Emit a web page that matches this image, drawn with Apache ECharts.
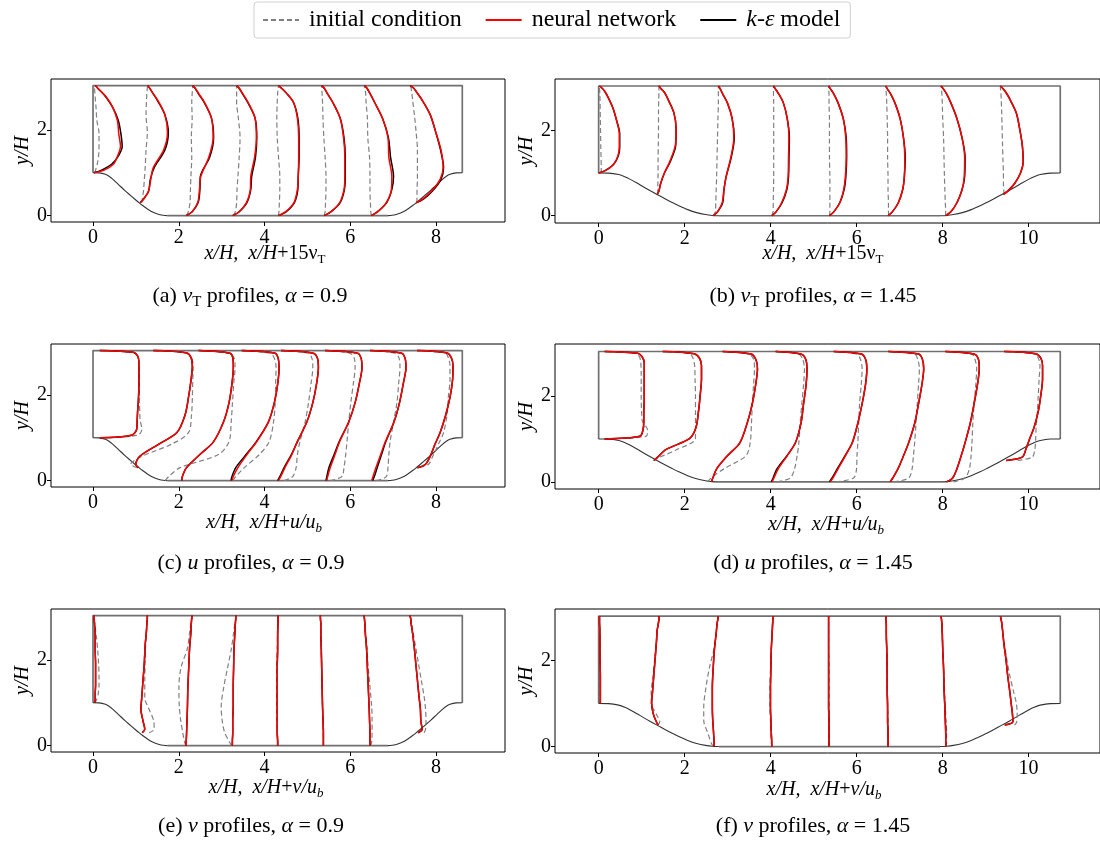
<!DOCTYPE html>
<html>
<head>
<meta charset="utf-8">
<title>periodic hill profiles</title>
<script src="https://cdn.jsdelivr.net/npm/echarts@6.0.0/dist/echarts.min.js"></script>
<style>
    html, body { margin: 0; padding: 0; background: #fff; }
    #chart { width: 1100px; height: 843px; }
</style>
</head>
<body>
<div id="chart"></div>
<script>
// ---- geometry ----
var yTop = 3.036;
var alphaA = 0.9, alphaB = 1.45;
var lengthA = 8.614, lengthB = 10.736;
// hill shape for alpha = 1 (x/H, y/H)
var hillX = [0, 0.161, 0.321, 0.429, 0.5, 0.607, 0.714, 0.821, 0.929, 1.071, 1.179, 1.286, 1.429, 1.571, 1.714, 1.821, 1.929];
var hillY = [1.0, 0.998, 0.964, 0.908, 0.857, 0.770, 0.679, 0.590, 0.504, 0.393, 0.311, 0.234, 0.143, 0.073, 0.027, 0.007, 0.0];

// sampling stations and wall height under each one
var stationsA = [0, 1.077, 2.153, 3.230, 4.307, 5.384, 6.460, 7.537];
var stationsB = [0, 1.342, 2.684, 4.026, 5.368, 6.710, 8.052, 9.394];
var wallA = [1, 0.30, 0, 0, 0, 0, 0, 0.30];
var wallB = [1, 0.50, 0, 0, 0, 0, 0, 0.50];
// fraction of the way from bottom wall to top wall
var sLevels = [0, 0.03, 0.1, 0.2, 0.3, 0.45, 0.6, 0.75, 0.87, 0.94, 0.98, 1];

var xTicksA = [0, 2, 4, 6, 8];
var xTicksB = [0, 2, 4, 6, 8, 10];
var yTicks = [0, 2];

// ---- profile offsets (x/H added to the station), one row per station ----
// (a) 15 nu_T, alpha = 0.9
var nutA_ic = [
    [0.04, 0.06, 0.10, 0.13, 0.14, 0.14, 0.09, 0.07, 0.05, 0.04, 0.03, 0.03],
    [0.06, 0.07, 0.10, 0.12, 0.14, 0.16, 0.19, 0.16, 0.17, 0.18, 0.19, 0.20],
    [0.03, 0.07, 0.11, 0.12, 0.13, 0.15, 0.14, 0.16, 0.15, 0.16, 0.17, 0.17],
    [0.04, 0.09, 0.12, 0.13, 0.15, 0.18, 0.20, 0.16, 0.12, 0.12, 0.12, 0.12],
    [0.02, 0.03, 0.04, 0.05, 0.05, 0.02, -0.01, -0.02, -0.01, 0.00, 0.01, 0.02],
    [0.01, 0.03, 0.04, 0.05, 0.05, 0.03, 0.00, -0.02, -0.03, -0.04, -0.05, -0.05],
    [0.03, 0.02, 0.01, 0.00, 0.00, -0.01, -0.05, -0.06, -0.09, -0.10, -0.12, -0.13],
    [0.02, 0.02, 0.02, 0.03, 0.03, 0.03, 0.00, -0.04, -0.08, -0.10, -0.12, -0.14]
];
var nutA_ke = [
    [0.02, 0.20, 0.44, 0.60, 0.68, 0.65, 0.59, 0.46, 0.30, 0.17, 0.09, 0.05],
    [0.02, 0.10, 0.22, 0.26, 0.35, 0.60, 0.68, 0.60, 0.43, 0.31, 0.24, 0.20],
    [0.02, 0.16, 0.30, 0.34, 0.35, 0.57, 0.66, 0.61, 0.44, 0.30, 0.23, 0.17],
    [0.03, 0.18, 0.36, 0.45, 0.47, 0.56, 0.59, 0.55, 0.38, 0.25, 0.18, 0.12],
    [0.02, 0.20, 0.39, 0.47, 0.48, 0.50, 0.50, 0.47, 0.37, 0.21, 0.09, 0.02],
    [0.01, 0.17, 0.38, 0.48, 0.50, 0.50, 0.47, 0.38, 0.21, 0.08, 0.01, -0.05],
    [0.03, 0.18, 0.39, 0.51, 0.55, 0.48, 0.43, 0.29, 0.11, 0.00, -0.07, -0.13],
    [0.00, 0.17, 0.38, 0.58, 0.64, 0.57, 0.46, 0.33, 0.15, 0.02, -0.06, -0.14]
];
var nutA_nn = [
    [0.02, 0.26, 0.48, 0.58, 0.64, 0.60, 0.57, 0.46, 0.31, 0.17, 0.09, 0.05],
    [0.02, 0.10, 0.22, 0.27, 0.33, 0.57, 0.66, 0.60, 0.44, 0.31, 0.24, 0.20],
    [0.02, 0.16, 0.29, 0.33, 0.36, 0.55, 0.65, 0.61, 0.45, 0.31, 0.23, 0.17],
    [0.03, 0.18, 0.35, 0.44, 0.45, 0.54, 0.58, 0.55, 0.39, 0.26, 0.18, 0.12],
    [0.02, 0.19, 0.38, 0.46, 0.48, 0.49, 0.49, 0.46, 0.37, 0.21, 0.09, 0.02],
    [0.01, 0.17, 0.37, 0.47, 0.49, 0.49, 0.46, 0.38, 0.21, 0.08, 0.01, -0.05],
    [0.03, 0.18, 0.38, 0.50, 0.51, 0.44, 0.42, 0.29, 0.11, 0.00, -0.07, -0.13],
    [0.00, 0.15, 0.36, 0.56, 0.63, 0.58, 0.46, 0.33, 0.15, 0.02, -0.06, -0.14]
];
// (b) 15 nu_T, alpha = 1.45
var nutB_ic = [
    [0.06, 0.06, 0.06, 0.055, 0.05, 0.045, 0.04, 0.035, 0.03, 0.025, 0.02, 0.02],
    [0.03, 0.03, 0.035, 0.04, 0.04, 0.045, 0.05, 0.05, 0.055, 0.06, 0.06, 0.06],
    [-0.02, 0.03, 0.04, 0.05, 0.06, 0.07, 0.08, 0.09, 0.10, 0.10, 0.10, 0.10],
    [0.00, 0.03, 0.035, 0.04, 0.045, 0.045, 0.045, 0.045, 0.045, 0.04, 0.04, 0.04],
    [0.00, 0.01, 0.01, 0.01, 0.01, 0.00, 0.00, 0.00, -0.01, -0.01, -0.02, -0.02],
    [0.04, 0.03, 0.03, 0.02, 0.02, 0.01, 0.01, 0.00, -0.01, -0.02, -0.03, -0.03],
    [0.02, 0.02, 0.01, 0.00, -0.01, -0.02, -0.03, -0.05, -0.06, -0.07, -0.08, -0.09],
    [0.03, 0.03, 0.02, 0.02, 0.01, 0.00, -0.01, -0.02, -0.03, -0.04, -0.05, -0.05]
];
var nutB_ke = [
    [0.00, 0.16, 0.35, 0.46, 0.49, 0.49, 0.42, 0.33, 0.22, 0.14, 0.07, 0.02],
    [0.02, 0.06, 0.10, 0.19, 0.32, 0.45, 0.46, 0.41, 0.28, 0.19, 0.10, 0.06],
    [-0.02, 0.08, 0.20, 0.23, 0.28, 0.40, 0.47, 0.42, 0.31, 0.20, 0.14, 0.10],
    [0.00, 0.10, 0.24, 0.35, 0.39, 0.40, 0.41, 0.36, 0.27, 0.16, 0.08, 0.04],
    [0.00, 0.10, 0.24, 0.34, 0.38, 0.40, 0.39, 0.32, 0.20, 0.10, 0.02, -0.02],
    [0.02, 0.12, 0.26, 0.36, 0.40, 0.42, 0.38, 0.30, 0.18, 0.08, 0.00, -0.03],
    [0.02, 0.14, 0.28, 0.40, 0.46, 0.47, 0.40, 0.28, 0.14, 0.04, -0.04, -0.09],
    [0.02, 0.12, 0.28, 0.42, 0.48, 0.46, 0.40, 0.32, 0.18, 0.08, 0.00, -0.05]
];
var nutB_nn = [
    [0.00, 0.17, 0.35, 0.45, 0.48, 0.48, 0.42, 0.33, 0.22, 0.14, 0.07, 0.02],
    [0.02, 0.06, 0.10, 0.19, 0.31, 0.44, 0.46, 0.41, 0.28, 0.19, 0.10, 0.06],
    [-0.02, 0.08, 0.19, 0.23, 0.28, 0.39, 0.46, 0.42, 0.31, 0.20, 0.14, 0.10],
    [0.00, 0.10, 0.23, 0.34, 0.38, 0.39, 0.40, 0.36, 0.27, 0.16, 0.08, 0.04],
    [0.00, 0.10, 0.24, 0.33, 0.37, 0.39, 0.38, 0.32, 0.20, 0.10, 0.02, -0.02],
    [0.02, 0.12, 0.26, 0.36, 0.40, 0.41, 0.38, 0.30, 0.18, 0.08, 0.00, -0.03],
    [0.02, 0.14, 0.28, 0.40, 0.45, 0.46, 0.40, 0.28, 0.14, 0.04, -0.04, -0.09],
    [0.02, 0.12, 0.28, 0.42, 0.48, 0.46, 0.40, 0.32, 0.18, 0.08, 0.00, -0.05]
];
// (c) u/u_b, alpha = 0.9
var uA_ic = [
    [0.16, 1.05, 1.14, 1.10, 1.09, 1.08, 1.08, 1.08, 1.07, 1.03, 0.93, 0.16],
    [-0.05, -0.20, 0.08, 0.75, 1.15, 1.22, 1.24, 1.25, 1.26, 1.22, 1.10, 0.33],
    [-0.47, -0.39, -0.12, 0.77, 1.02, 1.07, 1.10, 1.13, 1.16, 1.14, 1.04, 0.31],
    [0.03, 0.10, 0.30, 0.65, 0.88, 0.98, 1.02, 1.03, 1.04, 1.00, 0.90, 0.24],
    [0.15, 0.35, 0.43, 0.46, 0.52, 0.64, 0.72, 0.78, 0.82, 0.80, 0.72, 0.06],
    [0.15, 0.42, 0.47, 0.51, 0.54, 0.58, 0.63, 0.69, 0.73, 0.71, 0.61, 0.03],
    [0.15, 0.38, 0.42, 0.44, 0.47, 0.55, 0.63, 0.67, 0.70, 0.68, 0.59, 0.00],
    [0.08, 0.29, 0.39, 0.52, 0.64, 0.72, 0.75, 0.79, 0.79, 0.75, 0.68, 0.02]
];
var uA_ke = [
    [0.16, 0.90, 1.02, 1.03, 1.04, 1.06, 1.07, 1.07, 1.07, 1.04, 0.94, 0.16],
    [-0.02, -0.08, 0.02, 0.45, 0.88, 1.07, 1.15, 1.21, 1.24, 1.21, 1.11, 0.33],
    [-0.08, -0.07, 0.03, 0.34, 0.66, 0.89, 1.02, 1.09, 1.12, 1.11, 1.04, 0.31],
    [-0.01, 0.01, 0.10, 0.34, 0.58, 0.86, 1.00, 1.08, 1.11, 1.09, 1.02, 0.24],
    [0.00, 0.05, 0.15, 0.32, 0.46, 0.68, 0.82, 0.91, 0.95, 0.93, 0.83, 0.08],
    [0.05, 0.07, 0.12, 0.24, 0.36, 0.58, 0.73, 0.83, 0.89, 0.87, 0.79, 0.03],
    [0.06, 0.10, 0.17, 0.27, 0.37, 0.56, 0.69, 0.78, 0.84, 0.82, 0.74, 0.00],
    [0.03, 0.22, 0.33, 0.44, 0.56, 0.69, 0.79, 0.85, 0.86, 0.82, 0.72, 0.02]
];
var uA_nn = [
    [0.16, 0.90, 1.02, 1.03, 1.04, 1.06, 1.07, 1.07, 1.07, 1.04, 0.94, 0.16],
    [-0.02, -0.08, 0.02, 0.45, 0.88, 1.07, 1.15, 1.21, 1.24, 1.21, 1.11, 0.33],
    [-0.08, -0.07, 0.03, 0.34, 0.66, 0.89, 1.02, 1.09, 1.12, 1.11, 1.04, 0.31],
    [0.01, 0.04, 0.15, 0.36, 0.59, 0.86, 1.00, 1.08, 1.11, 1.09, 1.02, 0.24],
    [0.02, 0.07, 0.17, 0.33, 0.46, 0.68, 0.82, 0.91, 0.95, 0.93, 0.83, 0.08],
    [0.07, 0.09, 0.15, 0.26, 0.37, 0.58, 0.73, 0.83, 0.89, 0.87, 0.79, 0.03],
    [0.04, 0.07, 0.14, 0.25, 0.36, 0.56, 0.69, 0.78, 0.84, 0.82, 0.74, 0.00],
    [0.03, 0.22, 0.33, 0.44, 0.56, 0.69, 0.79, 0.85, 0.86, 0.82, 0.72, 0.02]
];
// (d) u/u_b, alpha = 1.45
var uB_ic = [
    [0.14, 1.10, 1.14, 1.02, 1.00, 0.99, 0.99, 0.99, 0.98, 0.95, 0.85, 0.14],
    [-0.08, 0.08, 0.48, 0.91, 0.91, 0.91, 0.91, 0.90, 0.89, 0.85, 0.77, 0.15],
    [-0.15, -0.07, 0.23, 0.74, 0.84, 0.87, 0.89, 0.92, 0.94, 0.92, 0.81, 0.20],
    [0.13, 0.43, 0.53, 0.59, 0.63, 0.66, 0.70, 0.74, 0.76, 0.72, 0.63, 0.09],
    [0.15, 0.56, 0.63, 0.64, 0.66, 0.68, 0.70, 0.74, 0.76, 0.72, 0.64, 0.10],
    [0.15, 0.50, 0.58, 0.61, 0.64, 0.67, 0.70, 0.73, 0.75, 0.71, 0.64, 0.03],
    [0.20, 0.47, 0.57, 0.61, 0.63, 0.65, 0.68, 0.72, 0.74, 0.70, 0.63, 0.01],
    [0.35, 0.69, 0.75, 0.77, 0.78, 0.81, 0.83, 0.85, 0.87, 0.83, 0.73, 0.04]
];
var uB_ke = [
    [0.14, 0.96, 1.03, 1.05, 1.05, 1.06, 1.06, 1.06, 1.06, 1.01, 0.91, 0.14],
    [-0.05, 0.03, 0.22, 0.77, 0.92, 0.98, 1.02, 1.05, 1.05, 1.00, 0.88, 0.15],
    [-0.06, -0.03, 0.06, 0.31, 0.60, 0.77, 0.89, 0.97, 1.01, 0.97, 0.86, 0.20],
    [-0.01, 0.03, 0.12, 0.35, 0.55, 0.68, 0.74, 0.80, 0.82, 0.79, 0.68, 0.09],
    [0.00, 0.06, 0.18, 0.36, 0.53, 0.66, 0.76, 0.84, 0.87, 0.84, 0.74, 0.10],
    [0.07, 0.13, 0.25, 0.38, 0.50, 0.64, 0.73, 0.81, 0.85, 0.82, 0.73, 0.03],
    [0.04, 0.18, 0.28, 0.38, 0.47, 0.59, 0.68, 0.76, 0.80, 0.78, 0.68, 0.01],
    [0.08, 0.46, 0.54, 0.63, 0.73, 0.83, 0.89, 0.93, 0.93, 0.89, 0.77, 0.04]
];
var uB_nn = [
    [0.14, 0.96, 1.03, 1.05, 1.05, 1.06, 1.06, 1.06, 1.06, 1.01, 0.91, 0.14],
    [-0.05, 0.03, 0.22, 0.77, 0.92, 0.98, 1.02, 1.05, 1.05, 1.00, 0.88, 0.15],
    [-0.06, -0.03, 0.06, 0.31, 0.60, 0.77, 0.89, 0.97, 1.01, 0.97, 0.86, 0.20],
    [0.01, 0.05, 0.15, 0.36, 0.55, 0.68, 0.74, 0.80, 0.82, 0.79, 0.68, 0.09],
    [0.02, 0.08, 0.20, 0.37, 0.53, 0.66, 0.76, 0.84, 0.87, 0.84, 0.74, 0.10],
    [0.07, 0.13, 0.25, 0.38, 0.50, 0.64, 0.73, 0.81, 0.85, 0.82, 0.73, 0.03],
    [0.04, 0.18, 0.28, 0.38, 0.47, 0.59, 0.68, 0.76, 0.80, 0.78, 0.68, 0.01],
    [0.08, 0.46, 0.54, 0.63, 0.73, 0.83, 0.89, 0.93, 0.93, 0.89, 0.77, 0.04]
];
// (e) v/u_b, alpha = 0.9
var vA_ic = [
    [0.04, 0.08, 0.12, 0.14, 0.14, 0.13, 0.11, 0.08, 0.05, 0.03, 0.02, 0.02],
    [0.23, 0.35, 0.34, 0.23, 0.13, 0.13, 0.14, 0.15, 0.17, 0.18, 0.19, 0.19],
    [0.01, -0.02, -0.06, -0.11, -0.14, -0.15, -0.10, 0.05, 0.10, 0.13, 0.15, 0.16],
    [0.00, -0.05, -0.16, -0.22, -0.24, -0.18, -0.09, 0.00, 0.05, 0.08, 0.10, 0.10],
    [0.00, 0.00, -0.01, -0.02, -0.02, -0.02, -0.02, -0.01, 0.00, 0.01, 0.01, 0.01],
    [-0.01, -0.01, -0.01, -0.02, -0.03, -0.04, -0.05, -0.06, -0.07, -0.07, -0.08, -0.08],
    [0.02, 0.04, 0.05, 0.05, 0.04, 0.00, -0.04, -0.07, -0.10, -0.12, -0.13, -0.14],
    [0.19, 0.22, 0.23, 0.22, 0.19, 0.12, 0.05, -0.02, -0.08, -0.11, -0.13, -0.15]
];
var vA_ke = [
    [0.04, 0.05, 0.05, 0.06, 0.06, 0.06, 0.05, 0.05, 0.04, 0.03, 0.02, 0.02],
    [0.07, 0.13, 0.09, 0.04, 0.06, 0.09, 0.12, 0.14, 0.17, 0.18, 0.19, 0.19],
    [0.01, 0.02, 0.03, 0.04, 0.05, 0.06, 0.08, 0.10, 0.13, 0.14, 0.15, 0.16],
    [0.02, 0.02, 0.03, 0.03, 0.04, 0.04, 0.05, 0.06, 0.08, 0.09, 0.10, 0.10],
    [0.00, 0.00, -0.01, -0.01, -0.01, -0.01, -0.01, 0.00, 0.00, 0.01, 0.01, 0.01],
    [-0.01, -0.01, -0.01, -0.02, -0.03, -0.04, -0.05, -0.06, -0.07, -0.07, -0.08, -0.08],
    [0.00, 0.00, 0.00, -0.01, -0.02, -0.04, -0.06, -0.08, -0.11, -0.12, -0.13, -0.14],
    [0.05, 0.14, 0.11, 0.10, 0.07, 0.03, -0.01, -0.05, -0.09, -0.12, -0.13, -0.15]
];
var vA_nn = [
    [0.04, 0.05, 0.05, 0.06, 0.06, 0.06, 0.05, 0.05, 0.04, 0.03, 0.02, 0.02],
    [0.07, 0.13, 0.09, 0.04, 0.06, 0.09, 0.12, 0.14, 0.17, 0.18, 0.19, 0.19],
    [0.01, 0.02, 0.03, 0.04, 0.05, 0.06, 0.08, 0.10, 0.13, 0.14, 0.15, 0.16],
    [0.02, 0.02, 0.03, 0.03, 0.04, 0.04, 0.05, 0.06, 0.08, 0.09, 0.10, 0.10],
    [0.00, 0.00, -0.01, -0.01, -0.01, -0.01, -0.01, 0.00, 0.00, 0.01, 0.01, 0.01],
    [-0.01, -0.01, -0.01, -0.02, -0.03, -0.04, -0.05, -0.06, -0.07, -0.07, -0.08, -0.08],
    [0.00, 0.00, 0.00, -0.01, -0.02, -0.04, -0.06, -0.08, -0.11, -0.12, -0.13, -0.14],
    [0.05, 0.14, 0.11, 0.10, 0.07, 0.03, -0.01, -0.05, -0.09, -0.12, -0.13, -0.15]
];
// (f) v/u_b, alpha = 1.45
var vB_ic = [
    [0.04, 0.04, 0.04, 0.04, 0.04, 0.035, 0.03, 0.03, 0.025, 0.02, 0.02, 0.02],
    [0.04, 0.08, 0.00, -0.12, -0.12, -0.08, -0.04, 0.00, 0.02, 0.05, 0.06, 0.06],
    [-0.02, -0.07, -0.14, -0.24, -0.24, -0.19, -0.11, 0.00, 0.05, 0.07, 0.09, 0.10],
    [0.00, -0.01, -0.02, -0.03, -0.04, -0.04, -0.03, -0.01, 0.01, 0.02, 0.03, 0.04],
    [0.00, 0.00, 0.00, 0.00, -0.01, -0.01, -0.01, -0.02, -0.02, -0.02, -0.02, -0.02],
    [0.03, 0.03, 0.02, 0.02, 0.01, 0.00, 0.00, -0.01, -0.02, -0.02, -0.03, -0.03],
    [0.03, 0.04, 0.04, 0.03, 0.01, -0.01, -0.03, -0.05, -0.06, -0.07, -0.08, -0.09],
    [0.28, 0.33, 0.34, 0.32, 0.26, 0.17, 0.10, 0.04, 0.00, -0.02, -0.04, -0.05]
];
var vB_ke = [
    [0.04, 0.04, 0.04, 0.04, 0.04, 0.035, 0.03, 0.03, 0.025, 0.02, 0.02, 0.02],
    [0.04, 0.00, -0.07, -0.11, -0.09, -0.06, -0.03, 0.00, 0.02, 0.05, 0.06, 0.06],
    [0.00, 0.00, -0.01, -0.03, -0.04, -0.04, -0.02, 0.01, 0.05, 0.07, 0.09, 0.10],
    [0.00, 0.00, -0.01, -0.02, -0.03, -0.03, -0.02, -0.01, 0.01, 0.02, 0.03, 0.04],
    [-0.01, -0.01, -0.01, -0.01, -0.02, -0.02, -0.02, -0.02, -0.02, -0.02, -0.02, -0.02],
    [0.02, 0.02, 0.02, 0.01, 0.01, 0.00, 0.00, -0.01, -0.02, -0.02, -0.03, -0.03],
    [0.02, 0.02, 0.02, 0.01, 0.00, -0.02, -0.03, -0.05, -0.06, -0.07, -0.08, -0.09],
    [0.05, 0.24, 0.23, 0.20, 0.17, 0.12, 0.08, 0.03, 0.00, -0.02, -0.04, -0.05]
];
var vB_nn = [
    [0.04, 0.04, 0.04, 0.04, 0.04, 0.035, 0.03, 0.03, 0.025, 0.02, 0.02, 0.02],
    [0.04, 0.00, -0.07, -0.11, -0.09, -0.06, -0.03, 0.00, 0.02, 0.05, 0.06, 0.06],
    [0.00, 0.00, -0.01, -0.03, -0.04, -0.04, -0.02, 0.01, 0.05, 0.07, 0.09, 0.10],
    [0.00, 0.00, -0.01, -0.02, -0.03, -0.03, -0.02, -0.01, 0.01, 0.02, 0.03, 0.04],
    [-0.01, -0.01, -0.01, -0.01, -0.02, -0.02, -0.02, -0.02, -0.02, -0.02, -0.02, -0.02],
    [0.02, 0.02, 0.02, 0.01, 0.01, 0.00, 0.00, -0.01, -0.02, -0.02, -0.03, -0.03],
    [0.02, 0.02, 0.02, 0.01, 0.00, -0.02, -0.03, -0.05, -0.06, -0.07, -0.08, -0.09],
    [0.05, 0.24, 0.23, 0.20, 0.17, 0.12, 0.08, 0.03, 0.00, -0.02, -0.04, -0.05]
];

// ---- texts ----
var legendNames = ['initial condition', 'neural network', 'k-ε model'];
var captions = [
    '{n|(a) }{i|ν}{s|T}{n| profiles, }{i|α}{n| = 0.9}',
    '{n|(b) }{i|ν}{s|T}{n| profiles, }{i|α}{n| = 1.45}',
    '{n|(c) }{i|u}{n| profiles, }{i|α}{n| = 0.9}',
    '{n|(d) }{i|u}{n| profiles, }{i|α}{n| = 1.45}',
    '{n|(e) }{i|v}{n| profiles, }{i|α}{n| = 0.9}',
    '{n|(f) }{i|v}{n| profiles, }{i|α}{n| = 1.45}'
];
var nutAxisName = '{i|x/H,  x/H}{n|+15ν}{s|T}';
var uAxisName = '{i|x/H,  x/H}{n|+}{i|u/u}{si|b}';
var vAxisName = '{i|x/H,  x/H}{n|+}{i|v/u}{si|b}';

var serif = 'Liberation Serif';

var panels = [
    {grid: {left: 51, top: 79, width: 454, height: 143}, xMin: -0.98, xMax: 9.61, yMin: -0.15, yMax: 3.19,
        alpha: alphaA, length: lengthA, stations: stationsA, walls: wallA, xTicks: xTicksA,
        ic: nutA_ic, ke: nutA_ke, nn: nutA_nn, axisName: nutAxisName, namePos: [265, 254], capPos: [250, 296]},
    {grid: {left: 555, top: 79, width: 547, height: 144}, xMin: -1.015, xMax: 11.66, yMin: -0.17, yMax: 3.2,
        alpha: alphaB, length: lengthB, stations: stationsB, walls: wallB, xTicks: xTicksB,
        ic: nutB_ic, ke: nutB_ke, nn: nutB_nn, axisName: nutAxisName, namePos: [823, 254], capPos: [813, 296]},
    {grid: {left: 51, top: 344, width: 454, height: 143}, xMin: -0.98, xMax: 9.61, yMin: -0.15, yMax: 3.19,
        alpha: alphaA, length: lengthA, stations: stationsA, walls: wallA, xTicks: xTicksA,
        ic: uA_ic, ke: uA_ke, nn: uA_nn, axisName: uAxisName, namePos: [264, 523], capPos: [251, 563]},
    {grid: {left: 555, top: 344, width: 547, height: 145}, xMin: -1.015, xMax: 11.66, yMin: -0.165, yMax: 3.21,
        alpha: alphaB, length: lengthB, stations: stationsB, walls: wallB, xTicks: xTicksB,
        ic: uB_ic, ke: uB_ke, nn: uB_nn, axisName: uAxisName, namePos: [826, 525], capPos: [813, 563]},
    {grid: {left: 51, top: 609, width: 454, height: 143}, xMin: -0.98, xMax: 9.61, yMin: -0.15, yMax: 3.19,
        alpha: alphaA, length: lengthA, stations: stationsA, walls: wallA, xTicks: xTicksA,
        ic: vA_ic, ke: vA_ke, nn: vA_nn, axisName: vAxisName, namePos: [266, 788], capPos: [251, 826]},
    {grid: {left: 555, top: 609, width: 547, height: 144}, xMin: -1.015, xMax: 11.66, yMin: -0.15, yMax: 3.2,
        alpha: alphaB, length: lengthB, stations: stationsB, walls: wallB, xTicks: xTicksB,
        ic: vB_ic, ke: vB_ke, nn: vB_nn, axisName: vAxisName, namePos: [824, 790], capPos: [813, 826]}
];

function profileData(st, wall, offsets) {
    var pts = [];
    for (var k = 0; k < sLevels.length; k++) {
        pts.push([st + offsets[k], wall + sLevels[k] * (yTop - wall)]);
    }
    return pts;
}

function lineSeries(gi, name, data, color, width, type, smooth) {
    return {
        name: name,
        type: 'line',
        xAxisIndex: gi,
        yAxisIndex: gi,
        data: data,
        color: color,
        symbol: 'none',
        showSymbol: false,
        smooth: smooth,
        silent: true,
        lineStyle: {color: color, width: width, type: type}
    };
}

var grids = [], xAxes = [], yAxes = [], series = [], graphics = [];

var richBase = {
    n: {fontFamily: serif, fontSize: 22, lineHeight: 28, fill: '#000'},
    i: {fontFamily: serif, fontSize: 22, lineHeight: 28, fontStyle: 'italic', fill: '#000'},
    s: {fontFamily: serif, fontSize: 15, lineHeight: 16, verticalAlign: 'bottom', fill: '#000'},
    si: {fontFamily: serif, fontSize: 15, lineHeight: 16, verticalAlign: 'bottom', fontStyle: 'italic', fill: '#000'}
};
var richName = {
    n: {fontFamily: serif, fontSize: 20, lineHeight: 24, fill: '#000'},
    i: {fontFamily: serif, fontSize: 20, lineHeight: 24, fontStyle: 'italic', fill: '#000'},
    s: {fontFamily: serif, fontSize: 13, lineHeight: 14, verticalAlign: 'bottom', fill: '#000'},
    si: {fontFamily: serif, fontSize: 13, lineHeight: 14, verticalAlign: 'bottom', fontStyle: 'italic', fill: '#000'}
};

panels.forEach(function (p, gi) {
    grids.push({
        left: p.grid.left, top: p.grid.top, width: p.grid.width, height: p.grid.height,
        show: true, borderColor: '#000', borderWidth: 1, backgroundColor: 'transparent'
    });
    xAxes.push({
        gridIndex: gi, type: 'value', min: p.xMin, max: p.xMax,
        axisLine: {show: false, onZero: false},
        splitLine: {show: false},
        axisTick: {show: true, length: 4, customValues: p.xTicks, lineStyle: {color: '#000'}},
        axisLabel: {customValues: p.xTicks, color: '#000', fontFamily: serif, fontSize: 20, margin: 6}
    });
    yAxes.push({
        gridIndex: gi, type: 'value', min: p.yMin, max: p.yMax,
        name: 'y/H', nameLocation: 'middle', nameGap: 16, nameRotate: 90,
        nameTextStyle: {fontFamily: serif, fontStyle: 'italic', fontSize: 20, color: '#000'},
        axisLine: {show: false, onZero: false},
        splitLine: {show: false},
        axisTick: {show: true, length: 4, customValues: yTicks, lineStyle: {color: '#000'}},
        axisLabel: {customValues: yTicks, color: '#000', fontFamily: serif, fontSize: 20, margin: 4}
    });

    // domain outline
    var L = p.length, a = p.alpha, foot = a * hillX[hillX.length - 1];
    var crest = hillY[0];
    series.push(lineSeries(gi, 'domain', [[0, crest], [0, yTop], [L, yTop], [L, crest]], '#707070', 1.7, 'solid', false));
    series.push(lineSeries(gi, 'domain', [[foot, 0], [L - foot, 0]], '#707070', 1.7, 'solid', false));
    series.push(lineSeries(gi, 'domain', hillX.map(function (x, k) { return [a * x, hillY[k]]; }), '#333', 1.1, 'solid', 0.3));
    series.push(lineSeries(gi, 'domain', hillX.map(function (x, k) { return [L - a * x, hillY[k]]; }), '#333', 1.1, 'solid', 0.3));

    for (var i = 0; i < p.stations.length; i++) {
        series.push(lineSeries(gi, legendNames[0], profileData(p.stations[i], p.walls[i], p.ic[i]), '#808080', 1.2, [5, 3], 0.3));
        series.push(lineSeries(gi, legendNames[2], profileData(p.stations[i], p.walls[i], p.ke[i]), '#000000', 1.5, 'solid', 0.3));
        series.push(lineSeries(gi, legendNames[1], profileData(p.stations[i], p.walls[i], p.nn[i]), '#ff0000', 1.5, 'solid', 0.3));
    }

    graphics.push({
        type: 'text', x: p.namePos[0], y: p.namePos[1], silent: true,
        style: {text: p.axisName, rich: richName, align: 'center', verticalAlign: 'middle', fontFamily: serif, fontSize: 20, fill: '#000'}
    });
    graphics.push({
        type: 'text', x: p.capPos[0], y: p.capPos[1], silent: true,
        style: {text: captions[gi], rich: richBase, align: 'center', verticalAlign: 'middle', fontFamily: serif, fontSize: 22, fill: '#000'}
    });
});

var option = {
    animation: false,
    backgroundColor: '#fff',
    legend: {
        data: legendNames,
        top: 2,
        left: 254,
        padding: [6, 10, 6, 8],
        itemWidth: 36,
        itemHeight: 14,
        itemGap: 23,
        selectedMode: false,
        borderColor: '#d0d0d0',
        borderWidth: 1,
        borderRadius: 3,
        lineStyle: {width: 2},
        itemStyle: {opacity: 0},
        textStyle: {
            fontFamily: serif, fontSize: 24, color: '#000', padding: [0, 0, 0, 5],
            rich: {it: {fontFamily: serif, fontSize: 24, fontStyle: 'italic', color: '#000'}}
        },
        formatter: function (name) {
            return name === 'k-ε model' ? '{it|k-ε} model' : name;
        }
    },
    grid: grids,
    xAxis: xAxes,
    yAxis: yAxes,
    graphic: graphics,
    series: series
};

echarts.init(document.getElementById('chart'), null, {renderer: 'canvas'}).setOption(option);
</script>
</body>
</html>
